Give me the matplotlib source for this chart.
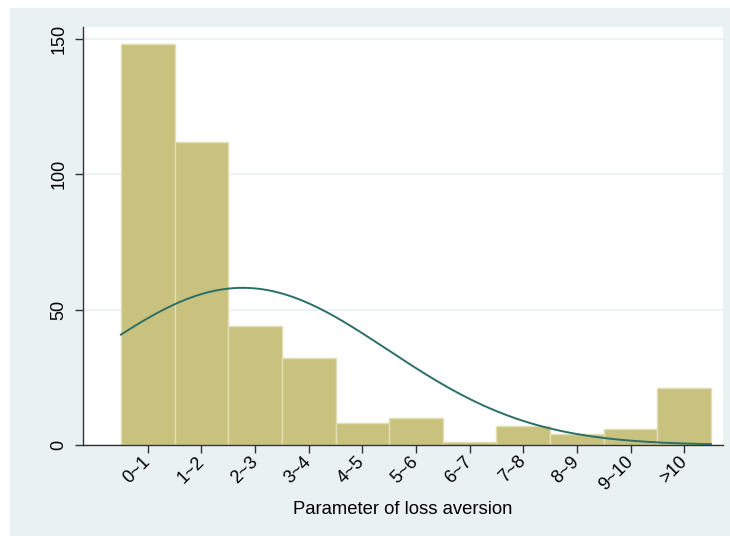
import numpy as np
import matplotlib.pyplot as plt
from matplotlib.patches import Rectangle

# histogram of the loss aversion parameter
categories = ['0~1', '1~2', '2~3', '3~4', '4~5', '5~6', '6~7', '7~8', '8~9', '9~10', '>10']
counts = [148, 112, 44, 32, 8, 10, 1, 7, 4, 6, 21]
y_ticks = [0, 50, 100, 150]

# fitted normal curve (in bin units)
curve_mean = 1.77
curve_sd = 2.7

bar_color = '#C9C27F'
bar_edge = '#E2DEB4'
curve_color = '#2B6F66'
frame_color = '#EAF1F3'

plt.rcParams['font.family'] = ['Liberation Sans', 'DejaVu Sans']

fig = plt.figure(figsize=(7.3, 5.36), dpi=100)
fig.patch.set_facecolor('white')
fig.patches.append(Rectangle((10 / 730, 0), 1 - 10 / 730, 1 - 8 / 536,
                             transform=fig.transFigure, facecolor=frame_color,
                             edgecolor='none', zorder=-10))

ax = fig.add_axes([83 / 730, 91 / 536, 640 / 730, 418 / 536])
ax.set_zorder(1)
ax.set_facecolor('white')

x = np.arange(len(categories))
ax.bar(x, counts, width=1.0, color=bar_color, edgecolor=bar_edge,
       linewidth=1.0, zorder=2)

n = sum(counts)
xs = np.linspace(-0.5, len(categories) - 0.5, 300)
dens = n / (curve_sd * np.sqrt(2 * np.pi)) * np.exp(-0.5 * ((xs - curve_mean) / curve_sd) ** 2)
ax.plot(xs, dens, color=curve_color, linewidth=1.4, zorder=3)

ax.set_xlim(-1.208, 10.724)
ax.set_ylim(0, 154.43)

ax.set_yticks(y_ticks)
ax.set_yticklabels([str(v) for v in y_ticks], rotation=90, va='center', fontsize=13)
ax.yaxis.grid(True, color=frame_color, linewidth=1.2, zorder=0)
ax.set_axisbelow(True)

ax.set_xticks(x)
ax.set_xticklabels(categories, rotation=45, ha='right', va='center',
                   rotation_mode='anchor', fontsize=13)
ax.tick_params(axis='both', direction='out', length=6, width=1, color='#333333',
               labelcolor='black')
ax.tick_params(axis='x', pad=4)
ax.tick_params(axis='y', pad=5)

for side in ['top', 'right']:
    ax.spines[side].set_visible(False)
for side in ['left', 'bottom']:
    ax.spines[side].set_color('#333333')
    ax.spines[side].set_linewidth(1.0)

ax.set_xlabel('Parameter of loss aversion', fontsize=13.3, labelpad=5)

fig.savefig('out.png', dpi=100)
